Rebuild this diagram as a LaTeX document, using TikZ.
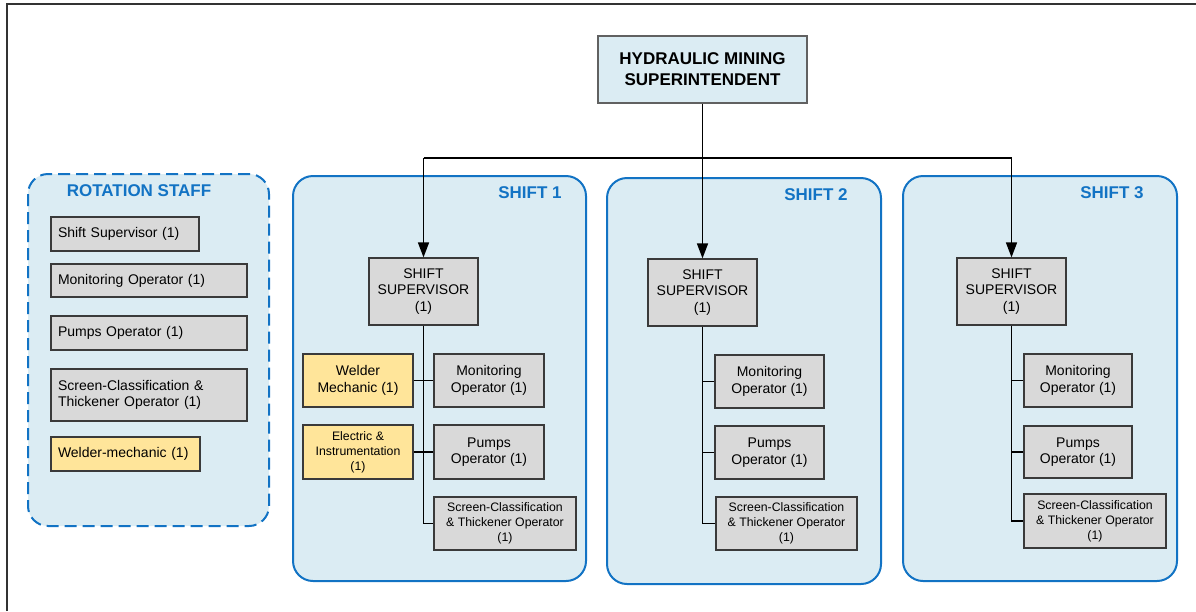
\documentclass[tikz,border=0pt]{standalone}
\usepackage{fontspec}
\setmainfont{Liberation Sans}
\usetikzlibrary{arrows.meta}

\definecolor{panelfill}{HTML}{DBECF3}
\definecolor{panelblue}{HTML}{1273C4}
\definecolor{boxgray}{HTML}{D9D9D9}
\definecolor{boxyellow}{HTML}{FFE59A}
\definecolor{edgegray}{HTML}{3A3A3A}
\definecolor{framegray}{HTML}{333333}

\tikzset{
  panel/.style={draw=panelblue, line width=2pt, fill=panelfill, rounded corners=20pt},
  rotpanel/.style={panel, dash pattern=on 12pt off 6pt},
  panelhead/.style={text=panelblue, font=\bfseries\fontsize{17}{20}\selectfont, inner sep=0pt},
  headbox/.style={draw=edgegray!80, line width=1.2pt, fill=panelfill, inner sep=0pt, align=center,
    font=\bfseries\fontsize{17}{21}\selectfont},
  role/.style={draw=edgegray, line width=1.2pt, fill=boxgray, inner sep=0pt, align=center,
    font=\fontsize{14}{16.5}\selectfont},
  smallrole/.style={role, font=\fontsize{12.3}{15}\selectfont},
  extra/.style={role, fill=boxyellow},
  smallextra/.style={smallrole, fill=boxyellow},
  rotrole/.style={role, align=left, inner xsep=7pt},
  link/.style={line width=1.5pt, draw=black},
  down/.style={link, -{Triangle[length=15pt, width=11pt]}},
}

\begin{document}
\begin{tikzpicture}[x=1pt, y=-1pt]
\useasboundingbox (0,0) rectangle (1196,611);

% page frame (top and left edges)
\draw[line width=2pt, framegray] (7,611) -- (7,4) -- (1196,4);

% background panels
\draw[rotpanel] (28,174) rectangle (269,526);
\draw[panel] (293,176) rectangle (586,581);
\draw[panel] (607,178) rectangle (881,584);
\draw[panel] (903,176) rectangle (1177,581);

\node[panelhead] (rothead) at (139,191) {ROTATION STAFF};
\node[panelhead] (s1head) at (530,193) {SHIFT 1};
\node[panelhead] (s2head) at (816,195) {SHIFT 2};
\node[panelhead] (s3head) at (1112,193) {SHIFT 3};

% superintendent
\node[headbox, minimum width=209pt, minimum height=67pt] (top) at (702.5,69.5)
  {HYDRAULIC MINING\\SUPERINTENDENT};

% rotation staff
\node[rotrole, text width=134pt, minimum height=34pt] (rs1) at (125,234) {Shift Supervisor (1)};
\node[rotrole, text width=182pt, minimum height=33pt] (rs2) at (149,280.5) {Monitoring Operator (1)};
\node[rotrole, text width=182pt, minimum height=34pt] (rs3) at (149,333) {Pumps Operator (1)};
\node[rotrole, text width=182pt, minimum height=52pt] (rs4) at (149,395) {Screen-Classification \&\\Thickener Operator (1)};
\node[rotrole, fill=boxyellow, text width=135pt, minimum height=34pt] (rs5) at (125.5,454) {Welder-mechanic (1)};

% shift 1
\node[role, minimum width=109pt, minimum height=67pt] (s1sup) at (423.5,291.5) {SHIFT\\SUPERVISOR\\(1)};
\node[extra, minimum width=110pt, minimum height=53pt] (s1wel) at (358,380.5) {Welder\\Mechanic (1)};
\node[role, minimum width=110pt, minimum height=53pt] (s1mon) at (489,380.5) {Monitoring\\Operator (1)};
\node[smallextra, minimum width=110pt, minimum height=54pt] (s1ele) at (358,452) {Electric \&\\Instrumentation\\(1)};
\node[role, minimum width=110pt, minimum height=54pt] (s1pmp) at (489,452) {Pumps\\Operator (1)};
\node[smallrole, minimum width=142pt, minimum height=53pt] (s1scr) at (505,523.5) {Screen-Classification\\\& Thickener Operator\\(1)};

% shift 2
\node[role, minimum width=109pt, minimum height=67pt] (s2sup) at (702.5,292.5) {SHIFT\\SUPERVISOR\\(1)};
\node[role, minimum width=109pt, minimum height=53pt] (s2mon) at (769.5,381.5) {Monitoring\\Operator (1)};
\node[role, minimum width=109pt, minimum height=53pt] (s2pmp) at (769.5,452.5) {Pumps\\Operator (1)};
\node[smallrole, minimum width=141pt, minimum height=53pt] (s2scr) at (786.5,523.5) {Screen-Classification\\\& Thickener Operator\\(1)};

% shift 3
\node[role, minimum width=109pt, minimum height=67pt] (s3sup) at (1011.5,291.5) {SHIFT\\SUPERVISOR\\(1)};
\node[role, minimum width=108pt, minimum height=53pt] (s3mon) at (1078,380.5) {Monitoring\\Operator (1)};
\node[role, minimum width=108pt, minimum height=52pt] (s3pmp) at (1078,452) {Pumps\\Operator (1)};
\node[smallrole, minimum width=142pt, minimum height=54pt] (s3scr) at (1095,521) {Screen-Classification\\\& Thickener Operator\\(1)};

% reporting lines from the superintendent
\coordinate (bus) at (702.5,158);
\draw[link] (s1sup.north |- bus) -- (s3sup.north |- bus);
\draw[down] (top.south) -- (s2sup.north);
\draw[down] (s1sup.north |- bus) -- (s1sup.north);
\draw[down] (s3sup.north |- bus) -- (s3sup.north);

% shift 1 branches
\draw[link] (s1sup.south) -- (s1sup.south |- s1scr.west) -- (s1scr.west);
\draw[link] (s1wel.east) -- (s1mon.west);
\draw[link] (s1ele.east) -- (s1pmp.west);

% shift 2 branches
\draw[link] (s2sup.south) -- (s2sup.south |- s2scr.west) -- (s2scr.west);
\draw[link] (s2sup.south |- s2mon.west) -- (s2mon.west);
\draw[link] (s2sup.south |- s2pmp.west) -- (s2pmp.west);

% shift 3 branches
\draw[link] (s3sup.south) -- (s3sup.south |- s3scr.west) -- (s3scr.west);
\draw[link] (s3sup.south |- s3mon.west) -- (s3mon.west);
\draw[link] (s3sup.south |- s3pmp.west) -- (s3pmp.west);
\end{tikzpicture}
\end{document}
